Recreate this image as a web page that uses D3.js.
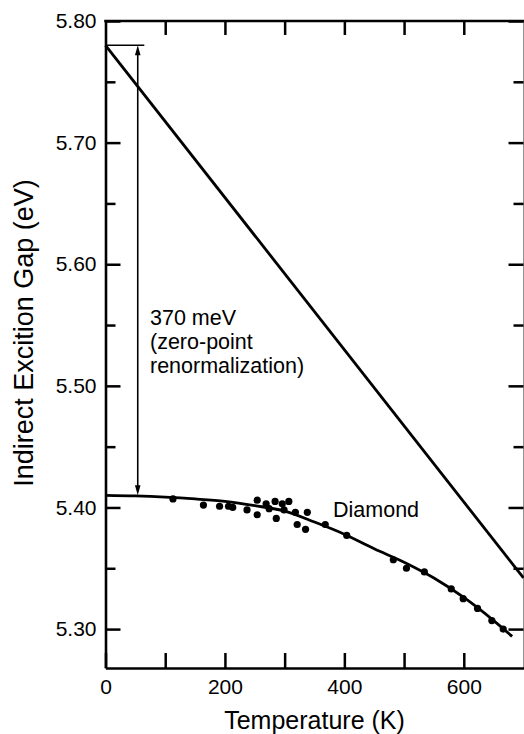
<!DOCTYPE html>
<html>
<head>
<meta charset="utf-8">
<script src="https://cdn.jsdelivr.net/npm/d3@7"></script>
<style>
  html, body { margin: 0; padding: 0; background: #fff; }
  svg { display: block; font-family: "Liberation Sans", Arial, Helvetica, sans-serif; }
</style>
</head>
<body>
<svg id="chart" width="524" height="734"></svg>
<script>
// Measured indirect exciton gap of diamond vs temperature
const sampleT = [113, 164, 191, 206, 213, 237, 254, 254, 269, 274, 284, 286, 296, 299, 307, 318, 321, 335, 338, 368, 404, 482, 504, 534, 579, 599, 623, 647, 666];
const sampleE = [5.407, 5.402, 5.401, 5.401, 5.400, 5.398, 5.406, 5.394, 5.403, 5.399, 5.405, 5.391, 5.403, 5.398, 5.405, 5.396, 5.386, 5.382, 5.396, 5.386, 5.377, 5.357, 5.350, 5.347, 5.333, 5.325, 5.317, 5.307, 5.300];

// Fitted temperature dependence through the data
const fitT = [0, 50, 100, 150, 200, 250, 300, 350, 400, 450, 500, 550, 600, 650, 681];
const fitE = [5.410, 5.4095, 5.4085, 5.407, 5.405, 5.4015, 5.397, 5.388, 5.378, 5.366, 5.355, 5.342, 5.326, 5.307, 5.294];

// Linear high-temperature extrapolation back to T = 0
const extrapT = [0, 700];
const extrapE = [5.78, 5.342];

// Zero-point renormalization annotation
const zpTop = 5.78;
const zpShift = 0.370;           // eV
const zpArrowT = 54;
const zpCapT = [0, 65];
const zpLines = ["370 meV", "(zero-point", "renormalization)"];

// Axis ticks
const xTicks = [0, 100, 200, 300, 400, 500, 600];
const xLabelled = [0, 200, 400, 600];
const yMajor = [5.30, 5.40, 5.50, 5.60, 5.70, 5.80];
const yMinor = [5.35, 5.45, 5.55, 5.65, 5.75];

const svg = d3.select("#chart");
const plotL = 105.5, plotR = 523.5, plotT = 21, plotB = 668;

const x = d3.scaleLinear().domain([0, 700]).range([plotL, plotR]);
const y = d3.scaleLinear().domain([5.268, 5.80]).range([plotB, plotT]);

function styleAxis(g, domainWidth, domainColor) {
  g.select(".domain").attr("stroke", domainColor).attr("stroke-width", domainWidth);
  g.selectAll(".tick line").attr("stroke", "#000").attr("stroke-width", 2.5);
  g.selectAll(".tick text").attr("fill", "#000").attr("font-size", 21)
    .attr("font-family", "Liberation Sans, Arial, sans-serif");
}

// Left axis: labelled major ticks, short minor ticks, all pointing inward
svg.append("g").attr("transform", `translate(${plotL},0)`)
  .call(d3.axisLeft(y).tickValues(yMajor).tickSize(-15).tickSizeOuter(0)
    .tickPadding(9).tickFormat(d3.format(".2f")))
  .call(g => styleAxis(g, 2.6, "#000"));
svg.append("g").attr("transform", `translate(${plotL},0)`)
  .call(d3.axisLeft(y).tickValues(yMinor).tickSize(-10).tickSizeOuter(0).tickFormat(""))
  .call(g => { styleAxis(g, 0, "none"); g.select(".domain").remove(); });

// Right axis
svg.append("g").attr("transform", `translate(${plotR},0)`)
  .call(d3.axisRight(y).tickValues(yMajor).tickSize(-15).tickSizeOuter(0).tickFormat(""))
  .call(g => styleAxis(g, 1.6, "#777"));
svg.append("g").attr("transform", `translate(${plotR},0)`)
  .call(d3.axisRight(y).tickValues(yMinor).tickSize(-10).tickSizeOuter(0).tickFormat(""))
  .call(g => { styleAxis(g, 0, "none"); g.select(".domain").remove(); });

// Bottom axis
svg.append("g").attr("transform", `translate(0,${plotB})`)
  .call(d3.axisBottom(x).tickValues(xTicks).tickSize(-15).tickSizeOuter(0)
    .tickPadding(11).tickFormat(d => xLabelled.includes(d) ? d3.format("d")(d) : ""))
  .call(g => styleAxis(g, 2.6, "#000"))
  .call(g => g.selectAll(".tick text").attr("dy", "0.71em"));

// Top axis
svg.append("g").attr("transform", `translate(0,${plotT})`)
  .call(d3.axisTop(x).tickValues(xTicks.filter(d => d > 0)).tickSize(-14).tickSizeOuter(0).tickFormat(""))
  .call(g => styleAxis(g, 2.6, "#000"))
  .call(g => g.select(".domain").attr("d", `M${plotL - 1.3},0H${plotR + 0.8}`));

// Extrapolated line
const lineGen = d3.line().x(d => x(d[0])).y(d => y(d[1]));
svg.append("path")
  .datum(d3.zip(extrapT, extrapE))
  .attr("d", lineGen)
  .attr("fill", "none").attr("stroke", "#000").attr("stroke-width", 2.8);

// Fitted curve
svg.append("path")
  .datum(d3.zip(fitT, fitE))
  .attr("d", d3.line().x(d => x(d[0])).y(d => y(d[1])).curve(d3.curveMonotoneX))
  .attr("fill", "none").attr("stroke", "#000").attr("stroke-width", 2.8);

// Measured points
svg.append("g").selectAll("circle")
  .data(d3.zip(sampleT, sampleE))
  .join("circle")
  .attr("cx", d => x(d[0])).attr("cy", d => y(d[1])).attr("r", 3.6)
  .attr("fill", "#000");

// Renormalization arrow
const ax = x(zpArrowT);
const yTop = y(zpTop), yBot = y(zpTop - zpShift);
svg.append("line")
  .attr("x1", x(zpCapT[0])).attr("x2", x(zpCapT[1]))
  .attr("y1", yTop).attr("y2", yTop)
  .attr("stroke", "#000").attr("stroke-width", 1.6);
svg.append("line")
  .attr("x1", ax).attr("x2", ax)
  .attr("y1", yTop + 6).attr("y2", yBot - 6)
  .attr("stroke", "#000").attr("stroke-width", 1.6);
svg.append("path")
  .attr("d", `M${ax},${yTop}L${ax - 2.8},${yTop + 10}L${ax + 2.8},${yTop + 10}Z`)
  .attr("fill", "#000");
svg.append("path")
  .attr("d", `M${ax},${yBot}L${ax - 2.8},${yBot - 10}L${ax + 2.8},${yBot - 10}Z`)
  .attr("fill", "#000");

// Annotation text
svg.append("text")
  .attr("x", 150).attr("y", 325)
  .attr("font-size", 21.5).attr("fill", "#000")
  .selectAll("tspan").data(zpLines).join("tspan")
  .attr("x", 150).attr("dy", (d, i) => i === 0 ? 0 : 24)
  .text(d => d);

svg.append("text")
  .attr("x", 333).attr("y", 517)
  .attr("font-size", 21.5).attr("fill", "#000")
  .text("Diamond");

// Axis titles
svg.append("text")
  .attr("x", 314.5).attr("y", 729)
  .attr("text-anchor", "middle").attr("font-size", 25).attr("fill", "#000")
  .text("Temperature (K)");

svg.append("text")
  .attr("transform", "translate(33,333) rotate(-90)")
  .attr("text-anchor", "middle").attr("font-size", 27).attr("fill", "#000")
  .text("Indirect Excition Gap (eV)");
</script>
</body>
</html>
